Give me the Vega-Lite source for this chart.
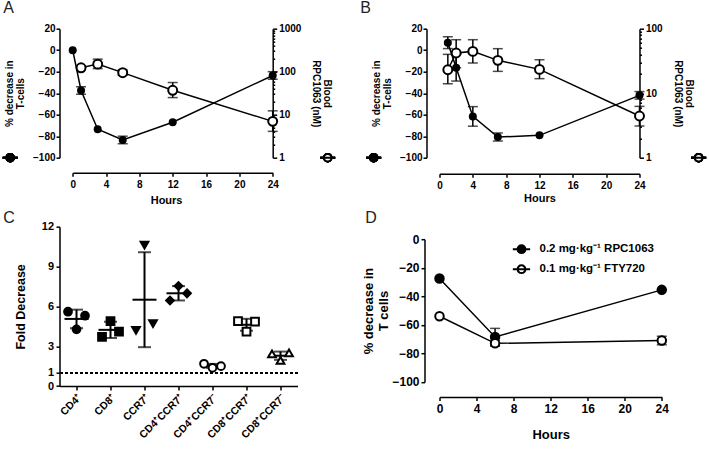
{
  "$schema": "https://vega.github.io/schema/vega-lite/v6.json",
  "padding": {"left": -1.5, "top": -0.3, "right": 0, "bottom": 0},
  "config": {
    "font": "Liberation Sans",
    "view": {"stroke": null},
    "axis": {"grid": false, "domainColor": "black", "domainWidth": 1.5, "tickColor": "black", "tickWidth": 1.5, "labelColor": "black", "titleColor": "black", "labelFontWeight": "bold", "titleFontWeight": "bold", "labelFlush": false, "labelOverlap": false, "labelBound": false},
    "title": {"fontSize": 16, "fontWeight": "normal", "color": "#222", "anchor": "start", "frame": "group", "baseline": "alphabetic"}
  },
  "resolve": {"scale": {"fill": "independent", "shape": "independent"}, "legend": {"fill": "independent", "shape": "independent"}},
  "datasets": {
    "aT": [{"h":0,"v":0},{"h":1,"v":-37.5,"elo":-3.5,"ehi":3.5},{"h":3,"v":-73.5},{"h":6,"v":-83.5,"elo":-3.5,"ehi":3.5},{"h":12,"v":-67},{"h":24,"v":-23.5,"elo":-3.5,"ehi":3.5}],
    "aC": [{"h":1,"v":123,"elo":-11,"ehi":12},{"h":3,"v":150,"elo":-32,"ehi":46},{"h":6,"v":95,"elo":-12,"ehi":15},{"h":12,"v":37,"elo":-12,"ehi":19},{"h":24,"v":7,"elo":-2.9,"ehi":5.3}],
    "bT": [{"h":1,"v":7,"elo":-5.5,"ehi":5.5},{"h":2,"v":-16.3,"elo":-12.4,"ehi":12.4},{"h":4,"v":-61.6,"elo":-9.1,"ehi":9.1},{"h":7,"v":-80.8,"elo":-3.7,"ehi":3.8},{"h":12,"v":-79.2},{"h":24,"v":-42,"elo":-3.5,"ehi":3.5}],
    "bC": [{"h":1,"v":23.1,"elo":-9.1,"ehi":16.9},{"h":2,"v":42,"elo":-17.2,"ehi":25.5},{"h":4,"v":44.5,"elo":-15.1,"ehi":23},{"h":7,"v":32.3,"elo":-10.5,"ehi":16.7},{"h":12,"v":23.4,"elo":-6.6,"ehi":9.6},{"h":24,"v":4.43,"elo":-1.33,"ehi":1.82}],
    "c": [
      {"group":"CD4⁺","rep":"L","value":5.6},{"group":"CD4⁺","rep":"R","value":5.3},{"group":"CD4⁺","rep":"M","value":4.27},
      {"group":"CD8⁺","rep":"M","value":4.9},{"group":"CD8⁺","rep":"R","value":4.1},{"group":"CD8⁺","rep":"L","value":3.7},
      {"group":"CCR7⁺","rep":"M","value":10.62},{"group":"CCR7⁺","rep":"R","value":4.7},{"group":"CCR7⁺","rep":"L","value":4.19},
      {"group":"CD4⁺CCR7⁺","rep":"M","value":7.53},{"group":"CD4⁺CCR7⁺","rep":"R","value":6.98},{"group":"CD4⁺CCR7⁺","rep":"L","value":6.45},
      {"group":"CD4⁺CCR7⁻","rep":"L","value":1.68},{"group":"CD4⁺CCR7⁻","rep":"M","value":1.38},{"group":"CD4⁺CCR7⁻","rep":"R","value":1.5},
      {"group":"CD8⁺CCR7⁺","rep":"L","value":4.9},{"group":"CD8⁺CCR7⁺","rep":"R","value":4.85},{"group":"CD8⁺CCR7⁺","rep":"M","value":4.1},
      {"group":"CD8⁺CCR7⁻","rep":"L","value":2.43},{"group":"CD8⁺CCR7⁻","rep":"R","value":2.5},{"group":"CD8⁺CCR7⁻","rep":"M","value":1.93}
    ],
    "d": [
      {"drug":"0.2 mg·kg⁻¹ RPC1063","h":0,"v":-27.5},{"drug":"0.2 mg·kg⁻¹ RPC1063","h":6,"v":-68.5,"elo":-6,"ehi":6},{"drug":"0.2 mg·kg⁻¹ RPC1063","h":24,"v":-35.5},
      {"drug":"0.1 mg·kg⁻¹ FTY720","h":0,"v":-54},{"drug":"0.1 mg·kg⁻¹ FTY720","h":6,"v":-73,"elo":-2,"ehi":2},{"drug":"0.1 mg·kg⁻¹ FTY720","h":24,"v":-71,"elo":-3,"ehi":3}
    ]
  },
  "spacing": 20,
  "hconcat": [
    {
      "spacing": 4,
      "resolve": {"scale": {"fill": "independent", "shape": "independent"}, "legend": {"fill": "independent", "shape": "independent"}},
      "vconcat": [
        {
          "width": 213.2, "height": 129,
          "title": {"text": "A", "dx": -56.2, "offset": 7.4},
          "resolve": {"scale": {"y": "independent"}},
          "layer": [
            {
              "data": {"name": "aT"},
              "encoding": {
                "x": {"field": "h", "type": "quantitative", "scale": {"domain": [-1.584, 24]}, "axis": {"values": [0,4,8,12,16,20,24], "offset": 15, "domainDash": [0, 13.2, 400], "title": "Hours", "titleFontSize": 11, "labelFontSize": 10, "tickSize": 3.5, "labelPadding": 3, "titlePadding": 5, "labelOverlap": false}},
                "y": {"field": "v", "type": "quantitative", "scale": {"domain": [-100, 20]}, "axis": {"values": [-100,-80,-60,-40,-20,0,20], "title": ["% decrease in", "T-cells"], "titleFontSize": 10, "labelFontSize": 10, "tickSize": 3.5, "labelPadding": 1, "titlePadding": 7, "titleLineHeight": 11, "labelOverlap": false}}
              },
              "layer": [
                {"mark": {"type": "line", "color": "black", "strokeWidth": 1.5}},
                {"transform": [{"filter": "datum.elo != null"}],
                 "mark": {"type": "errorbar", "color": "black", "thickness": 1.5, "ticks": {"size": 10}},
                 "encoding": {"yError": {"field": "elo"}, "yError2": {"field": "ehi"}}},
                {"mark": {"type": "point", "shape": "circle", "filled": true, "color": "black", "size": 64, "opacity": 1}},
                {"mark": {"type": "point", "shape": "M-1,0L1,0M0.5,0A0.5,0.5 0 1,1 -0.5,0A0.5,0.5 0 1,1 0.5,0Z", "filled": true, "fill": "black", "stroke": "black", "strokeWidth": 2, "size": 225, "opacity": 1},
                 "encoding": {
                   "x": {"datum": -7.5, "type": "quantitative", "scale": {"domain": [-1.584, 24]}, "axis": {"values": [0,4,8,12,16,20,24], "offset": 15, "domainDash": [0, 13.2, 400], "title": "Hours", "titleFontSize": 11, "labelFontSize": 10, "tickSize": 3.5, "labelPadding": 3, "titlePadding": 5, "labelOverlap": false}},
                   "y": {"datum": -100, "type": "quantitative", "scale": {"domain": [-100, 20]}, "axis": {"values": [-100,-80,-60,-40,-20,0,20], "title": ["% decrease in", "T-cells"], "titleFontSize": 10, "labelFontSize": 10, "tickSize": 3.5, "labelPadding": 1, "titlePadding": 7, "titleLineHeight": 11, "labelOverlap": false}}
                 }}
              ]
            },
            {
              "data": {"name": "aC"},
              "encoding": {
                "x": {"field": "h", "type": "quantitative", "scale": {"domain": [-1.584, 24]}, "axis": {"values": [0,4,8,12,16,20,24], "offset": 15, "domainDash": [0, 13.2, 400], "title": "Hours", "titleFontSize": 11, "labelFontSize": 10, "tickSize": 3.5, "labelPadding": 3, "titlePadding": 5, "labelOverlap": false}},
                "y": {"field": "v", "type": "quantitative", "scale": {"type": "log", "domain": [1, 1000]}, "axis": {"orient": "right", "values": [1,2,3,4,5,6,7,8,9,10,20,30,40,50,60,70,80,90,100,200,300,400,500,600,700,800,900,1000], "format": "d", "labelExpr": "datum.value == 1 || datum.value == 10 || datum.value == 100 || datum.value == 1000 ? datum.label : ''", "tickSize": {"condition": {"test": "datum.value == 1 || datum.value == 10 || datum.value == 100 || datum.value == 1000", "value": 4}, "value": 2}, "title": ["Blood", "RPC1063 (nM)"], "titleFontSize": 10, "labelFontSize": 10, "labelPadding": 2, "titlePadding": 10, "titleLineHeight": 11, "labelOverlap": false}}
              },
              "layer": [
                {"mark": {"type": "line", "color": "black", "strokeWidth": 1.5}},
                {"mark": {"type": "errorbar", "color": "black", "thickness": 1.5, "ticks": {"size": 10}},
                 "encoding": {"yError": {"field": "elo"}, "yError2": {"field": "ehi"}}},
                {"mark": {"type": "point", "shape": "circle", "filled": true, "fill": "white", "stroke": "black", "strokeWidth": 2, "size": 80, "opacity": 1}},
                {"mark": {"type": "point", "shape": "M-1,0L1,0M0.5,0A0.5,0.5 0 1,1 -0.5,0A0.5,0.5 0 1,1 0.5,0Z", "filled": true, "fill": "white", "stroke": "black", "strokeWidth": 2, "size": 225, "opacity": 1},
                 "encoding": {
                   "x": {"datum": 30.6, "type": "quantitative", "scale": {"domain": [-1.584, 24]}, "axis": {"values": [0,4,8,12,16,20,24], "offset": 15, "domainDash": [0, 13.2, 400], "title": "Hours", "titleFontSize": 11, "labelFontSize": 10, "tickSize": 3.5, "labelPadding": 3, "titlePadding": 5, "labelOverlap": false}},
                   "y": {"datum": 1, "type": "quantitative", "scale": {"type": "log", "domain": [1, 1000]}, "axis": {"orient": "right", "values": [1,2,3,4,5,6,7,8,9,10,20,30,40,50,60,70,80,90,100,200,300,400,500,600,700,800,900,1000], "format": "d", "labelExpr": "datum.value == 1 || datum.value == 10 || datum.value == 100 || datum.value == 1000 ? datum.label : ''", "tickSize": {"condition": {"test": "datum.value == 1 || datum.value == 10 || datum.value == 100 || datum.value == 1000", "value": 4}, "value": 2}, "title": ["Blood", "RPC1063 (nM)"], "titleFontSize": 10, "labelFontSize": 10, "labelPadding": 2, "titlePadding": 10, "titleLineHeight": 11, "labelOverlap": false}}
                 }}
              ]
            }
          ]
        },
        {
          "width": 238, "height": 159.4,
          "title": {"text": "C", "dx": -56.2, "offset": -5.8},
          "data": {"name": "c"},
          "encoding": {
            "x": {"field": "group", "type": "nominal", "sort": ["CD4⁺","CD8⁺","CCR7⁺","CD4⁺CCR7⁺","CD4⁺CCR7⁻","CD8⁺CCR7⁺","CD8⁺CCR7⁻"], "scale": {"paddingInner": 0, "paddingOuter": 0}, "axis": {"title": null, "labelAngle": -45, "labelFontSize": 10.5, "tickSize": 4, "labelPadding": 2, "labelOverlap": false}},
            "y": {"field": "value", "type": "quantitative", "scale": {"domain": [0, 12]}, "axis": {"values": [0,1,3,6,9,12], "title": "Fold Decrease", "titleFontSize": 12.5, "labelFontSize": 11, "tickSize": 3.5, "labelPadding": 2.5, "titlePadding": 14, "labelOverlap": false}}
          },
          "layer": [
            {"mark": {"type": "rule", "color": "black", "strokeWidth": 1.5, "strokeDash": [2, 3]},
             "encoding": {"x": null, "y": {"datum": 1, "type": "quantitative", "scale": {"domain": [0, 12]}, "axis": {"values": [0,1,3,6,9,12], "title": "Fold Decrease", "titleFontSize": 12.5, "labelFontSize": 11, "tickSize": 3.5, "labelPadding": 2.5, "titlePadding": 14, "labelOverlap": false}}}},
            {"mark": {"type": "errorbar", "extent": "stdev", "color": "black", "thickness": 2, "ticks": {"size": 13}}},
            {"mark": {"type": "tick", "color": "black", "size": 24, "thickness": 2},
             "encoding": {
               "y": {"aggregate": "mean", "field": "value", "type": "quantitative", "scale": {"domain": [0, 12]}, "axis": {"values": [0,1,3,6,9,12], "title": "Fold Decrease", "titleFontSize": 12.5, "labelFontSize": 11, "tickSize": 3.5, "labelPadding": 2.5, "titlePadding": 14, "labelOverlap": false}}
             }},
            {"mark": {"type": "point", "size": 60, "strokeWidth": 2, "stroke": "black", "opacity": 1, "filled": true},
             "encoding": {
               "xOffset": {"field": "rep", "type": "nominal", "scale": {"paddingInner": 0, "paddingOuter": 1.9}},
               "shape": {"field": "group", "type": "nominal", "scale": {"domain": ["CD4⁺","CD8⁺","CCR7⁺","CD4⁺CCR7⁺","CD4⁺CCR7⁻","CD8⁺CCR7⁺","CD8⁺CCR7⁻"], "range": ["circle","square","triangle-down","diamond","circle","square","triangle-up"]}, "legend": null},
               "fill": {"field": "group", "type": "nominal", "scale": {"domain": ["CD4⁺","CD8⁺","CCR7⁺","CD4⁺CCR7⁺","CD4⁺CCR7⁻","CD8⁺CCR7⁺","CD8⁺CCR7⁻"], "range": ["black","black","black","black","white","white","white"]}, "legend": null}
             }}
          ]
        }
      ]
    },
    {
      "spacing": 6.5,
      "resolve": {"scale": {"fill": "independent", "shape": "independent"}, "legend": {"fill": "independent", "shape": "independent"}},
      "vconcat": [
        {
          "width": 200, "height": 129,
          "title": {"text": "B", "dx": -79.2, "offset": 7.4},
          "resolve": {"scale": {"y": "independent"}},
          "layer": [
            {
              "data": {"name": "bT"},
              "encoding": {
                "x": {"field": "h", "type": "quantitative", "scale": {"domain": [0, 24]}, "axis": {"values": [0,4,8,12,16,20,24], "offset": 16, "title": "Hours", "titleFontSize": 11, "labelFontSize": 10, "tickSize": 3.5, "labelPadding": 3, "titlePadding": 2, "labelOverlap": false}},
                "y": {"field": "v", "type": "quantitative", "scale": {"domain": [-100, 20]}, "axis": {"values": [-100,-80,-60,-40,-20,0,20], "offset": 13, "title": ["% decrease in", "T-cells"], "titleFontSize": 10, "labelFontSize": 10, "tickSize": 3.5, "labelPadding": 1, "titlePadding": 7, "titleLineHeight": 11, "labelOverlap": false}}
              },
              "layer": [
                {"mark": {"type": "line", "color": "black", "strokeWidth": 1.5}},
                {"transform": [{"filter": "datum.elo != null"}],
                 "mark": {"type": "errorbar", "color": "black", "thickness": 1.5, "ticks": {"size": 10}},
                 "encoding": {"yError": {"field": "elo"}, "yError2": {"field": "ehi"}}},
                {"mark": {"type": "point", "shape": "circle", "filled": true, "color": "black", "size": 64, "opacity": 1}},
                {"mark": {"type": "point", "shape": "M-1,0L1,0M0.5,0A0.5,0.5 0 1,1 -0.5,0A0.5,0.5 0 1,1 0.5,0Z", "filled": true, "fill": "black", "stroke": "black", "strokeWidth": 2, "size": 225, "opacity": 1},
                 "encoding": {
                   "x": {"datum": -7.9, "type": "quantitative", "scale": {"domain": [0, 24]}, "axis": {"values": [0,4,8,12,16,20,24], "offset": 16, "title": "Hours", "titleFontSize": 11, "labelFontSize": 10, "tickSize": 3.5, "labelPadding": 3, "titlePadding": 2, "labelOverlap": false}},
                   "y": {"datum": -100, "type": "quantitative", "scale": {"domain": [-100, 20]}, "axis": {"values": [-100,-80,-60,-40,-20,0,20], "offset": 13, "title": ["% decrease in", "T-cells"], "titleFontSize": 10, "labelFontSize": 10, "tickSize": 3.5, "labelPadding": 1, "titlePadding": 7, "titleLineHeight": 11, "labelOverlap": false}}
                 }}
              ]
            },
            {
              "data": {"name": "bC"},
              "encoding": {
                "x": {"field": "h", "type": "quantitative", "scale": {"domain": [0, 24]}, "axis": {"values": [0,4,8,12,16,20,24], "offset": 16, "title": "Hours", "titleFontSize": 11, "labelFontSize": 10, "tickSize": 3.5, "labelPadding": 3, "titlePadding": 2, "labelOverlap": false}},
                "y": {"field": "v", "type": "quantitative", "scale": {"type": "log", "domain": [1, 100]}, "axis": {"orient": "right", "values": [1,2,3,4,5,6,7,8,9,10,20,30,40,50,60,70,80,90,100], "format": "d", "labelExpr": "datum.value == 1 || datum.value == 10 || datum.value == 100 ? datum.label : ''", "tickSize": {"condition": {"test": "datum.value == 1 || datum.value == 10 || datum.value == 100", "value": 4}, "value": 2}, "title": ["Blood", "RPC1063 (nM)"], "titleFontSize": 10, "labelFontSize": 10, "labelPadding": 2, "titlePadding": 10, "titleLineHeight": 11, "labelOverlap": false}}
              },
              "layer": [
                {"mark": {"type": "line", "color": "black", "strokeWidth": 1.5}},
                {"mark": {"type": "errorbar", "color": "black", "thickness": 1.5, "ticks": {"size": 10}},
                 "encoding": {"yError": {"field": "elo"}, "yError2": {"field": "ehi"}}},
                {"mark": {"type": "point", "shape": "circle", "filled": true, "fill": "white", "stroke": "black", "strokeWidth": 2, "size": 80, "opacity": 1}},
                {"mark": {"type": "point", "shape": "M-1,0L1,0M0.5,0A0.5,0.5 0 1,1 -0.5,0A0.5,0.5 0 1,1 0.5,0Z", "filled": true, "fill": "white", "stroke": "black", "strokeWidth": 2, "size": 225, "opacity": 1},
                 "encoding": {
                   "x": {"datum": 31.1, "type": "quantitative", "scale": {"domain": [0, 24]}, "axis": {"values": [0,4,8,12,16,20,24], "offset": 16, "title": "Hours", "titleFontSize": 11, "labelFontSize": 10, "tickSize": 3.5, "labelPadding": 3, "titlePadding": 2, "labelOverlap": false}},
                   "y": {"datum": 1, "type": "quantitative", "scale": {"type": "log", "domain": [1, 100]}, "axis": {"orient": "right", "values": [1,2,3,4,5,6,7,8,9,10,20,30,40,50,60,70,80,90,100], "format": "d", "labelExpr": "datum.value == 1 || datum.value == 10 || datum.value == 100 ? datum.label : ''", "tickSize": {"condition": {"test": "datum.value == 1 || datum.value == 10 || datum.value == 100", "value": 4}, "value": 2}, "title": ["Blood", "RPC1063 (nM)"], "titleFontSize": 10, "labelFontSize": 10, "labelPadding": 2, "titlePadding": 10, "titleLineHeight": 11, "labelOverlap": false}}
                 }}
              ]
            }
          ]
        },
        {
          "width": 222.3, "height": 142.7,
          "title": {"text": "D", "dx": -74.2, "offset": 7},
          "data": {"name": "d"},
          "encoding": {
            "x": {"field": "h", "type": "quantitative", "scale": {"domain": [0, 24]}, "axis": {"values": [0,4,8,12,16,20,24], "offset": 15, "title": "Hours", "titleFontSize": 13, "labelFontSize": 12, "tickSize": 3.5, "labelPadding": 3, "titlePadding": 14, "labelOverlap": false}},
            "y": {"field": "v", "type": "quantitative", "scale": {"domain": [-100, 0]}, "axis": {"values": [0,-20,-40,-60,-80,-100], "format": "d", "offset": 15, "zindex": 2, "title": ["% decrease in", "T cells"], "titleFontSize": 13, "labelFontSize": 12, "tickSize": 3.5, "labelPadding": 2, "titlePadding": 1, "titleLineHeight": 15, "labelOverlap": false, "labelBound": false, "labelFlush": false}},
            "detail": {"field": "drug"}
          },
          "layer": [
            {"mark": {"type": "line", "color": "black", "strokeWidth": 1.5}},
            {"transform": [{"filter": "datum.elo != null"}],
             "mark": {"type": "errorbar", "color": "black", "thickness": 1.5, "ticks": {"size": 10}},
             "encoding": {"yError": {"field": "elo"}, "yError2": {"field": "ehi"}}},
            {"mark": {"type": "point", "shape": "circle", "size": 72, "strokeWidth": 2, "stroke": "black", "filled": true, "opacity": 1},
             "encoding": {
               "fill": {"field": "drug", "type": "nominal", "scale": {"domain": ["0.2 mg·kg⁻¹ RPC1063", "0.1 mg·kg⁻¹ FTY720"], "range": ["black", "white"]},
                 "legend": {"title": null, "orient": "none", "legendX": 72, "legendY": 0, "padding": 0, "symbolType": "M-1,0L1,0M0.45,0A0.45,0.45 0 1,1 -0.45,0A0.45,0.45 0 1,1 0.45,0Z", "symbolStrokeColor": "black", "symbolStrokeWidth": 2, "symbolSize": 300, "labelFontSize": 11.5, "labelFontWeight": "bold", "labelColor": "black", "labelOffset": 8, "rowPadding": 2}}
             }}
          ]
        }
      ]
    }
  ]
}
